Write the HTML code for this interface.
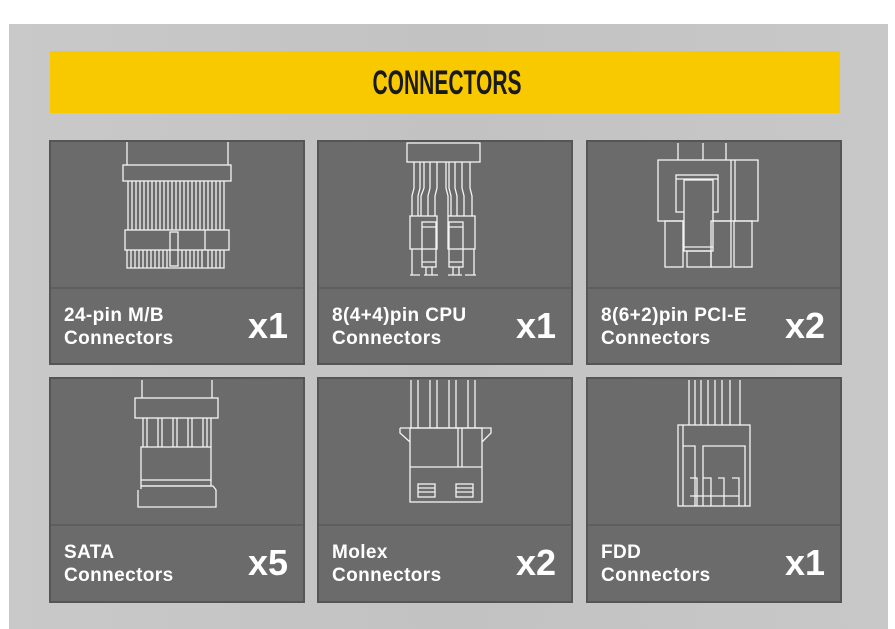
<!DOCTYPE html>
<html><head><meta charset="utf-8"><style>
html,body{margin:0;padding:0;background:#fff;}
svg{display:block;}
text{font-family:"Liberation Sans",sans-serif;}
</style></head><body>
<svg width="895" height="629" viewBox="0 0 895 629" xmlns="http://www.w3.org/2000/svg">
<defs>
<linearGradient id="bg" x1="0" x2="1" y1="0" y2="0">
<stop offset="0" stop-color="#c9c9c9"/><stop offset="0.5" stop-color="#c2c2c2"/><stop offset="1" stop-color="#c8c8c8"/>
</linearGradient>
</defs>
<rect x="0" y="0" width="895" height="629" fill="#fff"/>
<rect x="9" y="24" width="879" height="605" fill="url(#bg)"/>
<rect x="50" y="51" width="790" height="62" fill="#f9c900"/>
<text x="447" y="94" text-anchor="middle" font-size="34" font-weight="bold" fill="#1a1a1a" textLength="149" lengthAdjust="spacingAndGlyphs">CONNECTORS</text>

<g stroke="#555" stroke-width="2" fill="#6b6b6b">
<rect x="50" y="141" width="254" height="223"/>
<rect x="318" y="141" width="254" height="223"/>
<rect x="587" y="141" width="254" height="223"/>
<rect x="50" y="378" width="254" height="224"/>
<rect x="318" y="378" width="254" height="224"/>
<rect x="587" y="378" width="254" height="224"/>
</g>
<g stroke="#5a5a5a" stroke-width="1.5">
<line x1="51" y1="288" x2="303" y2="288"/><line x1="319" y1="288" x2="571" y2="288"/><line x1="588" y1="288" x2="840" y2="288"/>
<line x1="51" y1="525" x2="303" y2="525"/><line x1="319" y1="525" x2="571" y2="525"/><line x1="588" y1="525" x2="840" y2="525"/>
</g>

<g fill="#fff" font-weight="bold" font-size="19" letter-spacing="0.4">
<text x="64" y="321">24-pin M/B</text><text x="64" y="344">Connectors</text>
<text x="332" y="321">8(4+4)pin CPU</text><text x="332" y="344">Connectors</text>
<text x="601" y="321">8(6+2)pin PCI-E</text><text x="601" y="344">Connectors</text>
<text x="64" y="558">SATA</text><text x="64" y="581">Connectors</text>
<text x="332" y="558">Molex</text><text x="332" y="581">Connectors</text>
<text x="601" y="558">FDD</text><text x="601" y="581">Connectors</text>
</g>
<g fill="#fff" font-weight="bold" font-size="36">
<text x="248" y="338">x1</text><text x="516" y="338">x1</text><text x="785" y="338">x2</text>
<text x="248" y="575">x5</text><text x="516" y="575">x2</text><text x="785" y="575">x1</text>
</g>

<g stroke="#f4f4f4" stroke-width="1.3" fill="none">
<line x1="127" y1="142" x2="127" y2="165"/><line x1="228" y1="142" x2="228" y2="165"/>
<rect x="123" y="165" width="108" height="16"/>
<path d="M128 181V230M132 181V230M136 181V230M140 181V230M144 181V230M148 181V230M152 181V230M156 181V230M160 181V230M164 181V230M168 181V230M172 181V230M176 181V230M180 181V230M184 181V230M188 181V230M192 181V230M196 181V230M200 181V230M204 181V230M208 181V230M212 181V230M216 181V230M220 181V230M224 181V230"/>
<rect x="125" y="230" width="104" height="20"/>
<line x1="205" y1="230" x2="205" y2="250"/>
<rect x="170" y="232" width="8" height="34"/>
<path d="M127 250V268H224V250M131 250V268M135 250V268M139 250V268M143 250V268M147 250V268M151 250V268M155 250V268M159 250V268M163 250V268M167 250V268M182 250V268M186 250V268M190 250V268M194 250V268M198 250V268M202 250V268M208 250V268M212 250V268M216 250V268M220 250V268"/>

<rect x="407" y="143" width="73" height="19"/>
<path d="M414 162V188L412 196V216M420 162V188L418 196V216M424 162V188L421 196V216M430 162V188L428 196V216M437 162V188L435 196V216M449 162V188L451 196V216M455 162V188L457 196V216M462 162V188L464 196V216M470 162V188L472 196V216M446 162V188L448 196V216"/>
<rect x="410" y="216" width="27" height="33"/><rect x="422" y="222" width="14" height="45"/>
<rect x="448" y="216" width="27" height="33"/><rect x="449" y="222" width="14" height="45"/>
<path d="M422 227H436M422 262H436M449 227H463M449 262H463M412 249V275M474 249V275M426 267V275M432 267V275M453 267V275M459 267V275M410 275H420M424 275H438M448 275H462M465 275H476"/>

<path d="M678 143V160M703 143V160M726 143V160"/>
<rect x="658" y="160" width="100" height="61"/>
<path d="M731 160V221M735 160V221"/>
<rect x="676" y="175" width="42" height="37"/><line x1="676" y1="179" x2="718" y2="179"/>
<rect x="684" y="180" width="29" height="71" fill="#6b6b6b"/>
<line x1="684" y1="247" x2="713" y2="247"/>
<rect x="665" y="221" width="18" height="46"/>
<rect x="687" y="251" width="24" height="16"/>
<rect x="711" y="221" width="20" height="46"/>
<rect x="734" y="221" width="18" height="46"/>

<path d="M142 380V398M212 380V398"/>
<rect x="135" y="398" width="83" height="20"/>
<path d="M143 418V447M147 418V447M158 418V447M162 418V447M173 418V447M177 418V447M188 418V447M192 418V447M203 418V447M207 418V447M211 418V447"/>
<rect x="141" y="447" width="70" height="33"/>
<path d="M141 480V486H211V480M141 486V489"/>
<path d="M138 490V507H216V490L213 486H141"/>

<path d="M411 380V428M418 380V428M430 380V428M437 380V428M449 380V428M456 380V428M468 380V428M475 380V428"/>
<path d="M400 428H491L491 433L482 442M400 428L400 433L410 442"/>
<rect x="410" y="428" width="72" height="74"/>
<path d="M410 467H482M458 428V467M462 428V467"/>
<rect x="418" y="484" width="17" height="13"/><rect x="456" y="484" width="17" height="13"/>
<path d="M418 488H435M418 492H435M456 488H473M456 492H473"/>

<path d="M689 380V425M695 380V425M701 380V425M708 380V425M715 380V425M722 380V425M730 380V425M740 380V425"/>
<rect x="678" y="425" width="72" height="81"/>
<path d="M683 425V506M683 446H695V506M703 506V446H745V506"/>
<path d="M690 478H697V506M703 478H711V506M718 478H724V506M732 478H739V506M690 496H739"/>
</g>
</svg>
</body></html>
